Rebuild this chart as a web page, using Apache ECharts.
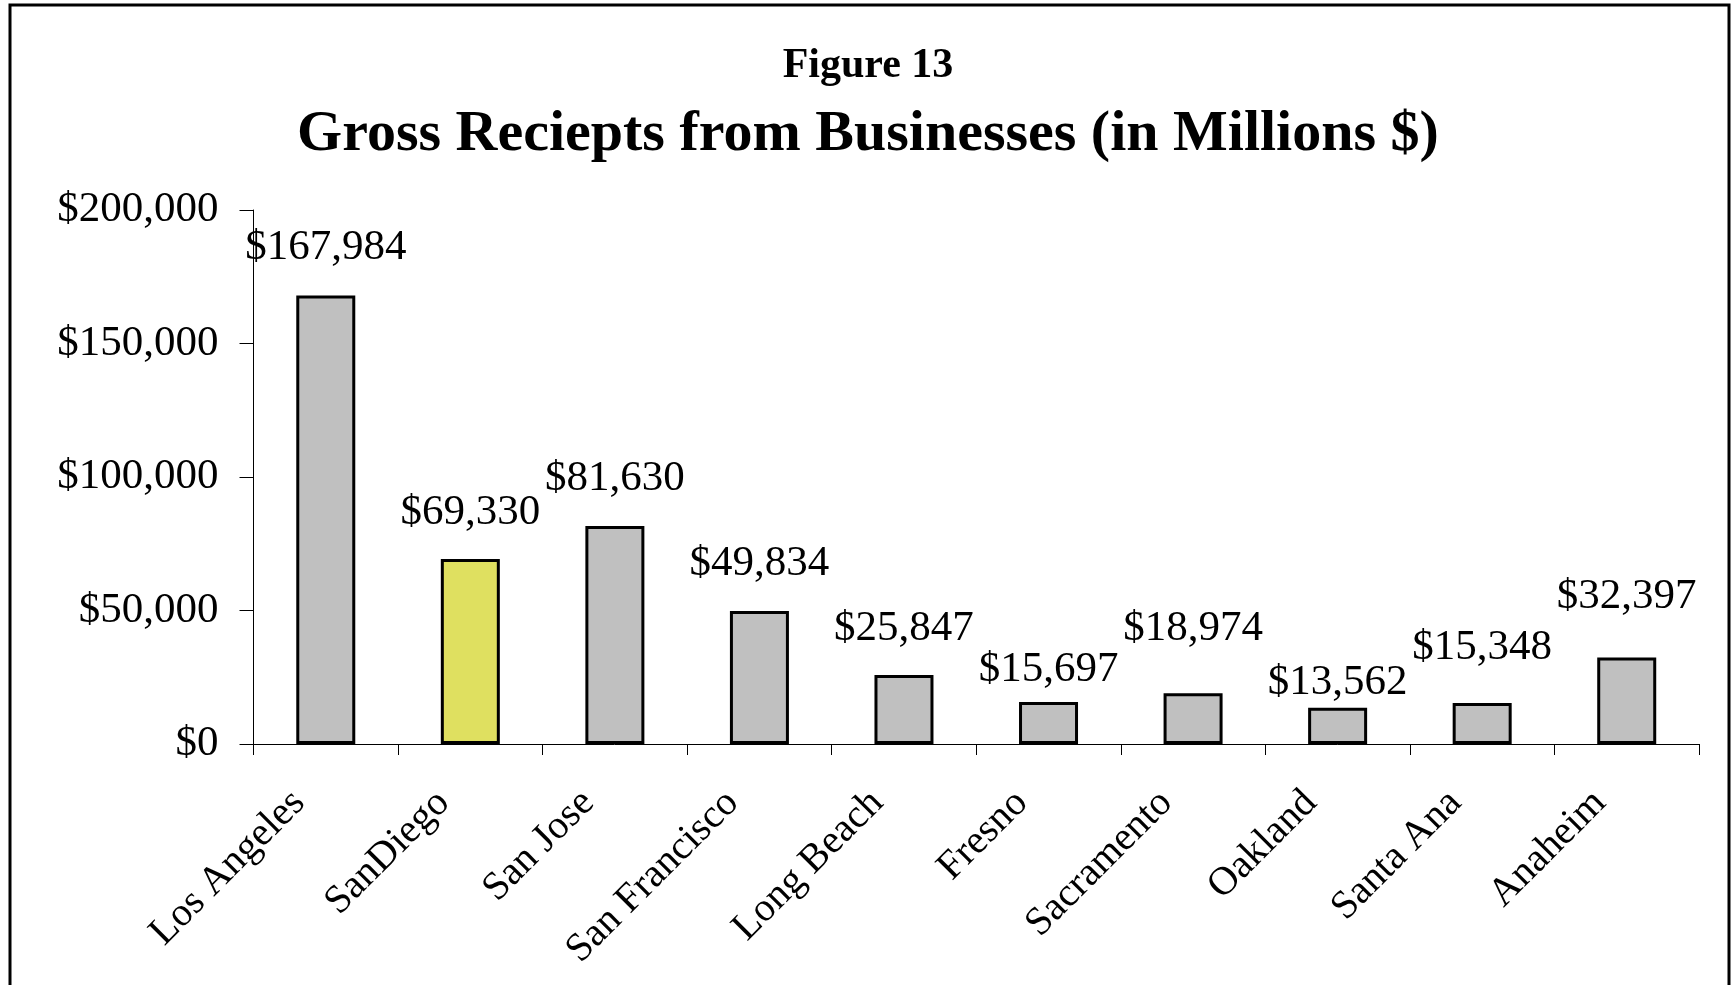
<!DOCTYPE html>
<html>
<head>
<meta charset="utf-8">
<title>Gross Reciepts from Businesses</title>
<script src="https://cdn.jsdelivr.net/npm/echarts@6/dist/echarts.min.js"></script>
<style>
  html, body { margin: 0; padding: 0; background: #fff; }
  #chart { width: 1736px; height: 985px; }
</style>
</head>
<body>
<div id="chart"></div>
<script>
// City names along the category axis
const cities = ['Los Angeles', 'SanDiego', 'San Jose', 'San Francisco', 'Long Beach',
                'Fresno', 'Sacramento', 'Oakland', 'Santa Ana', 'Anaheim'];
// Gross receipts, millions of dollars
const receipts = [167984, 69330, 81630, 49834, 25847, 15697, 18974, 13562, 15348, 32397];
// Value-axis ticks
const yTicks = [0, 50000, 100000, 150000, 200000];

// Styling
const FONT = "'Liberation Serif', 'Times New Roman', serif";
const BAR_GRAY = '#c0c0c0';
const BAR_HIGHLIGHT = '#dfe060';
const HIGHLIGHT_CITY = 'SanDiego';
// Staggered gap between each bar top and its value label
const labelGap = [26, 25, 26, 26, 25, 11, 43, 4, 34, 39];

const money = v => '$' + Number(v).toLocaleString('en-US');

const chart = echarts.init(document.getElementById('chart'), null, { renderer: 'canvas' });

const barData = receipts.map((v, i) => ({
  value: v,
  itemStyle: { color: cities[i] === HIGHLIGHT_CITY ? BAR_HIGHLIGHT : BAR_GRAY },
  label: { distance: labelGap[i] }
}));

chart.setOption({
  backgroundColor: '#fff',
  animation: false,
  graphic: [{
    type: 'rect',
    shape: { x: 10, y: 5, width: 1719, height: 1010 },
    style: { fill: 'none', stroke: '#000', lineWidth: 3 },
    silent: true
  }],
  title: [{
    text: 'Figure 13',
    left: 'center',
    top: 40,
    textStyle: { fontFamily: FONT, fontWeight: 'bold', fontSize: 42, color: '#000' }
  }, {
    text: 'Gross Reciepts from Businesses (in Millions $)',
    left: 'center',
    top: 101,
    textStyle: { fontFamily: FONT, fontWeight: 'bold', fontSize: 58, color: '#000' }
  }],
  grid: { left: 253.5, right: 37, top: 210, bottom: 241, containLabel: false },
  xAxis: {
    type: 'category',
    data: cities,
    axisLine: { lineStyle: { color: '#000', width: 1 } },
    axisTick: { show: true, length: 11, lineStyle: { color: '#000', width: 1 } },
    axisLabel: {
      rotate: 45,
      interval: 0,
      margin: 26,
      padding: [0, 38, 0, 0],
      fontFamily: FONT,
      fontSize: 40,
      color: '#000'
    },
    splitLine: { show: false }
  },
  yAxis: {
    type: 'value',
    min: yTicks[0],
    max: yTicks[yTicks.length - 1],
    interval: yTicks[1] - yTicks[0],
    axisLine: { show: true, lineStyle: { color: '#000', width: 1 } },
    axisTick: { show: true, length: 14, lineStyle: { color: '#000', width: 1 } },
    axisLabel: {
      margin: 35,
      fontFamily: FONT,
      fontSize: 43,
      color: '#000',
      formatter: money
    },
    splitLine: { show: false }
  },
  series: [{
    type: 'bar',
    data: barData,
    barWidth: 59,
    itemStyle: { borderColor: '#000', borderWidth: 3 },
    label: {
      show: true,
      position: 'top',
      fontFamily: FONT,
      fontSize: 43,
      color: '#000',
      formatter: p => money(p.value)
    }
  }]
});
</script>
</body>
</html>
